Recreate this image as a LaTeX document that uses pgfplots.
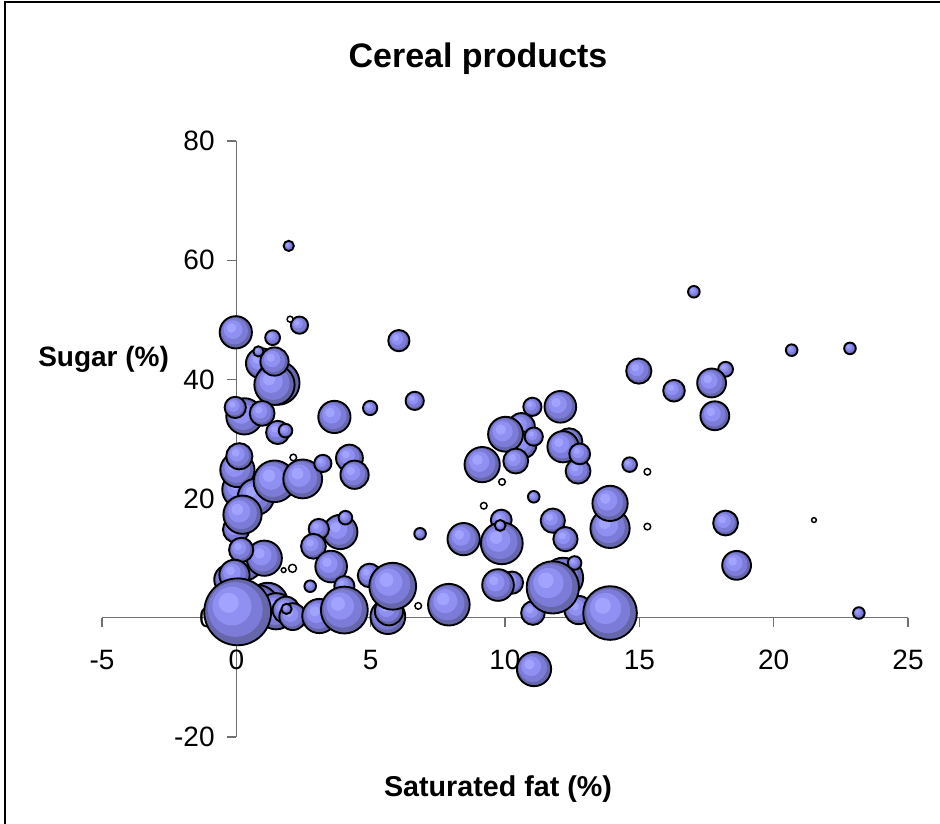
\documentclass[border=0pt]{standalone}
\usepackage{pgfplots}
\pgfplotsset{compat=1.18}
\usepackage{pgfplotstable}
\usepackage{fontspec}
\setmainfont{Liberation Sans}
\definecolor{bA}{RGB}{162,162,255}
\definecolor{bB}{RGB}{144,144,242}
\definecolor{bC}{RGB}{124,124,216}
\definecolor{bD}{RGB}{102,102,170}
\definecolor{axgray}{RGB}{112,112,112}
\pgfdeclareplotmark{bub}{%
  \pgfsetfillcolor{bD}%
  \pgfpathcircle{\pgfpointorigin}{\pgfplotmarksize}\pgfusepathqfill
  \pgfsetfillcolor{bC}%
  \pgfpathcircle{\pgfpoint{-0.07\pgfplotmarksize}{0.07\pgfplotmarksize}}{0.82\pgfplotmarksize}\pgfusepathqfill
  \pgfsetfillcolor{bB}%
  \pgfpathcircle{\pgfpoint{-0.17\pgfplotmarksize}{0.17\pgfplotmarksize}}{0.58\pgfplotmarksize}\pgfusepathqfill
  \pgfsetfillcolor{bA}%
  \pgfpathcircle{\pgfpoint{-0.27\pgfplotmarksize}{0.27\pgfplotmarksize}}{0.3\pgfplotmarksize}\pgfusepathqfill
  \pgfpathcircle{\pgfpointorigin}{\pgfplotmarksize}\pgfusepathqstroke
}
\pgfplotstableread{
x y r
1.95 62.4 5
2.35 49.1 8.5
-0.02 47.9 16
1.35 47.0 7.3
6.05 46.5 10.5
0.92 42.7 15
1.54 39.4 21.7
1.42 39.1 20
1.42 43.0 14
0.82 44.7 5
0.30 33.8 18
-0.04 35.3 10.5
0.96 34.3 12.3
1.54 31.1 11.5
1.83 31.4 6.7
3.65 33.7 16
4.98 35.2 7
6.64 36.4 9
0.15 21.5 18
0.04 24.8 17
0.11 27.1 13
0.73 20.3 18
1.42 22.9 20.7
2.47 23.3 19.3
3.22 25.9 8.5
4.21 26.8 13.3
4.40 24.0 14
-0.01 14.8 13
0.23 17.3 19
3.87 14.4 17
3.07 14.9 10
4.06 16.8 6.7
2.87 12.0 12.3
3.53 8.6 15.7
6.84 14.1 5.7
2.75 5.3 5.7
0.42 8.6 13
1.04 10.0 17.5
0.18 11.4 12
-0.26 6.4 15
-0.07 7.2 15
1.17 2.5 20
0.78 1.8 22
1.48 1.1 18
1.85 1.3 13.3
2.10 0.2 13.3
1.87 1.5 5
0.05 1.0 33.3
3.09 0.3 17
4.02 5.3 10
4.02 1.3 23.3
4.96 7.1 11.7
5.64 0.2 17.3
5.68 1.1 14
5.82 5.3 23.3
7.91 2.2 20.7
8.46 13.2 16
11.02 35.4 9
12.06 35.4 15.7
10.61 32.1 13.3
10.67 29.0 13.3
10.02 30.8 17.3
11.07 30.4 9
10.40 26.3 12.3
9.15 25.7 17.5
12.39 29.6 13
12.16 28.7 15.5
12.72 24.6 12.3
12.78 27.5 10.3
14.64 25.7 7.2
11.07 20.3 5.7
13.91 15.0 19.5
13.91 19.2 17.5
11.78 16.3 12
12.25 13.2 12
9.86 16.4 10.3
9.88 12.5 20.8
9.82 15.5 5.3
10.26 5.9 11
9.74 5.5 15.7
12.16 6.7 20
12.59 9.2 6.7
11.04 0.8 11.7
12.74 1.3 14
11.78 5.1 26
13.91 0.8 26.7
11.08 -8.6 17
17.03 54.7 5.7
20.67 44.9 5.7
22.84 45.2 5.7
14.98 41.4 12.5
18.21 41.7 7.3
17.69 39.4 14.3
16.29 38.1 10.7
17.81 33.9 14.3
18.21 15.9 12.3
18.62 8.8 14.3
23.17 0.8 5.7
}\bluedata
\pgfplotstableread{
x y r
2.00 50.1 3
2.12 26.9 3.3
2.09 8.3 4
1.76 8.0 2.4
6.77 2.0 3.3
9.89 22.8 3.3
15.30 24.5 3.3
9.21 18.8 3.3
15.30 15.3 3.3
21.50 16.4 2.4
}\whitedata
\begin{document}
\begin{tikzpicture}
\draw[line width=1.5pt] (3.75pt,-640pt) -- (3.75pt,-1.5pt) -- (720pt,-1.5pt);
\begin{axis}[
  at={(76.5pt,-552.75pt)}, anchor=south west,
  scale only axis, width=604.5pt, height=447pt,
  xmin=-5, xmax=25, ymin=-20, ymax=80,
  axis lines=middle,
  axis line style={-, draw=axgray, line width=1pt},
  xtick={-5,0,5,10,15,20,25}, ytick={-20,0,20,40,60,80},
  xticklabels={-5,0,5,10,15,20,25},
  yticklabels={-20,0,20,40,60,80},
  hide obscured x ticks=false, hide obscured y ticks=false,
  tick align=outside, major tick length=6.75pt,
  tick style={draw=axgray, line width=1pt},
  ticklabel style={font=\fontsize{21}{25}\selectfont, text=black},
  xticklabel style={anchor=north, yshift=-14pt},
  yticklabel style={anchor=east, xshift=-6pt},
  clip=false,
]
\addplot[scatter, only marks, mark=bub, point meta=\thisrow{r},
  scatter/use mapped color={draw=black, fill=white},
  mark options={line width=1.4pt},
  visualization depends on={0.75*\thisrow{r}+0.1 \as \rad},
  scatter/@pre marker code/.append style={/tikz/mark size=\rad pt}]
  table[x=x, y=y] {\bluedata};
\addplot[scatter, only marks, mark=*, point meta=\thisrow{r},
  scatter/use mapped color={draw=black, fill=white},
  mark options={line width=1.1pt},
  visualization depends on={0.75*\thisrow{r} \as \rad},
  scatter/@pre marker code/.append style={/tikz/mark size=\rad pt}]
  table[x=x, y=y] {\whitedata};
\end{axis}
\node[anchor=base, font=\fontsize{25.5}{30}\selectfont\bfseries] at (358.5pt,-51pt) {Cereal products};
\node[anchor=base west, inner sep=0pt, font=\fontsize{21}{25}\selectfont\bfseries] at (28.5pt,-274.5pt) {Sugar (\%)};
\node[anchor=base, font=\fontsize{21.5}{25}\selectfont\bfseries] at (373.5pt,-597pt) {Saturated fat (\%)};
\pgfresetboundingbox
\path[use as bounding box] (0,0) rectangle (705pt,-618pt);
\end{tikzpicture}
\end{document}
